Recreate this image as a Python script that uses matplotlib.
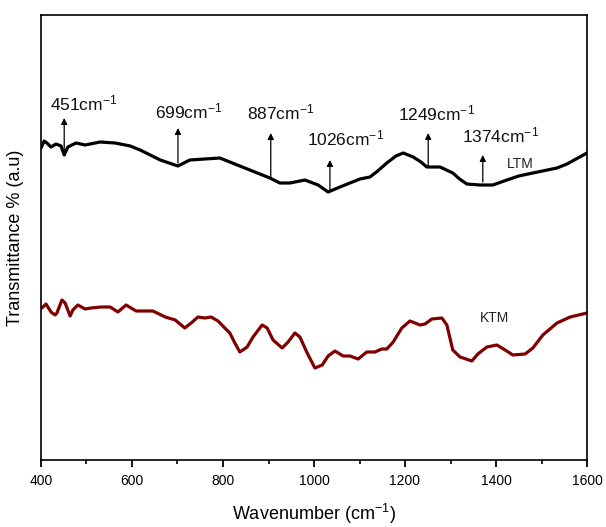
import matplotlib
matplotlib.use("Agg")
import matplotlib.pyplot as plt
from matplotlib.ticker import MultipleLocator

plt.rcParams['font.family'] = ['Liberation Sans', 'DejaVu Sans']
plt.rcParams['mathtext.fontset'] = 'custom'
plt.rcParams['mathtext.rm'] = 'Liberation Sans'
plt.rcParams['mathtext.it'] = 'Liberation Sans:italic'

# LTM spectrum (wavenumber, arbitrary transmittance)
ltm_x = [400, 407, 413, 422, 433, 444, 451, 459, 477, 497, 530, 563, 596, 618, 640, 662, 701, 727,
         760, 793, 815, 859, 903, 925, 947, 980, 1009, 1031, 1057, 1079, 1101, 1123, 1140, 1160, 1180, 1196,
         1218, 1235, 1248, 1277, 1305, 1320, 1336, 1365, 1393, 1424, 1450, 1481, 1534, 1556, 1580, 1600]
ltm_y = [312, 319, 317, 313, 316, 314, 305, 313, 317, 315, 318, 317, 314, 310, 305, 300, 294, 300,
         301, 302, 298, 290, 282, 277, 277, 280, 275, 268, 273, 277, 281, 283, 289, 297, 304, 307,
         303, 298, 293, 293, 287, 281, 276, 275, 275, 280, 284, 287, 292, 296, 302, 307]

# KTM spectrum
ktm_x = [402, 411, 422, 431, 435, 446, 453, 464, 470, 481, 497, 510, 532, 552, 569, 587, 609, 629,
         646, 673, 695, 716, 730, 745, 760, 774, 789, 804, 815, 826, 837, 853, 866, 886, 897, 910,
         930, 943, 958, 969, 985, 1002, 1018, 1031, 1046, 1064, 1079, 1097, 1116, 1134, 1149, 1160,
         1174, 1193, 1211, 1233, 1244, 1259, 1281, 1292, 1305, 1321, 1347, 1360, 1380, 1402, 1420,
         1437, 1464, 1481, 1503, 1534, 1563, 1600]
ktm_y = [152, 156, 148, 145, 147, 160, 157, 144, 150, 155, 151, 152, 153, 153, 148, 155, 149, 149,
         149, 143, 140, 132, 137, 143, 142, 143, 139, 132, 127, 117, 108, 113, 123, 135, 132, 120,
         112, 118, 127, 123, 107, 92, 95, 104, 109, 104, 104, 101, 108, 108, 111, 111,
         118, 132, 139, 135, 136, 141, 142, 135, 110, 103, 99, 106, 113, 115, 110,
         105, 106, 112, 125, 137, 143, 147]

# Peak annotations
peak_labels = ['451', '699', '887', '1026', '1249', '1374']
arrow_x = [451, 701, 905, 1035, 1251, 1371]
arrow_base = [305, 297, 283, 270, 293, 278]
arrow_tip = [342, 332, 327, 300, 327, 305]
label_x = [420, 651, 853, 985, 1185, 1325]
label_y = [350, 342, 341, 315, 340, 318]

fig = plt.figure(figsize=(6.06, 5.27), dpi=100)
ax = fig.add_axes([41/606, 67/527, 546/606, 445/527])

ax.plot(ltm_x, ltm_y, color='black', lw=2.3, solid_joinstyle='round', solid_capstyle='round')
ax.plot(ktm_x, ktm_y, color='#800000', lw=2.3, solid_joinstyle='round', solid_capstyle='round')

for lab, ax_x, b, t, lx, ly in zip(peak_labels, arrow_x, arrow_base, arrow_tip, label_x, label_y):
    ax.annotate('', xy=(ax_x, t), xytext=(ax_x, b),
                arrowprops=dict(arrowstyle='-|>', color='black', lw=0.9,
                                mutation_scale=9, shrinkA=0, shrinkB=0))
    ax.text(lx, ly, lab + r'cm$^{-1}$', fontsize=12.5, ha='left', va='baseline', color='#111111')

ax.text(1424, 292, 'LTM', fontsize=10, ha='left', va='baseline', color='#222222')
ax.text(1365, 138, 'KTM', fontsize=10, ha='left', va='baseline', color='#222222')

ax.set_xlim(400, 1600)
ax.set_ylim(0, 445)
ax.xaxis.set_major_locator(MultipleLocator(200))
ax.xaxis.set_minor_locator(MultipleLocator(100))
ax.tick_params(axis='x', which='major', direction='out', length=5, width=1.3, labelsize=10, pad=5)
ax.tick_params(axis='x', which='minor', direction='out', length=3, width=1.2)
ax.tick_params(axis='y', left=False, labelleft=False)
for s in ax.spines.values():
    s.set_linewidth(1.2)

ax.set_xlabel(r'Wavenumber (cm$^{-1}$)', fontsize=13, labelpad=10)
ax.set_ylabel('Transmittance % (a.u)', fontsize=13, labelpad=12)

fig.savefig('out.png', dpi=100)
